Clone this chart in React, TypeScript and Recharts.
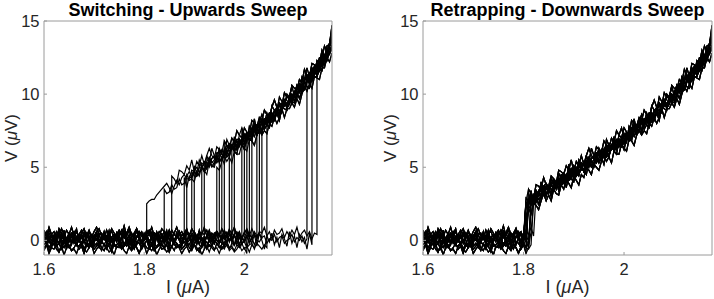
import { LineChart, Line, XAxis, YAxis } from "recharts";

// current sweep grid (uA), 1.600 .. 2.175
const I_GRID = [
  1.6, 1.605, 1.61, 1.615, 1.62, 1.625, 1.63, 1.635, 1.64, 1.645,
  1.65, 1.655, 1.66, 1.665, 1.67, 1.675, 1.68, 1.685, 1.69, 1.695,
  1.7, 1.705, 1.71, 1.715, 1.72, 1.725, 1.73, 1.735, 1.74, 1.745,
  1.75, 1.755, 1.76, 1.765, 1.77, 1.775, 1.78, 1.785, 1.79, 1.795,
  1.8, 1.805, 1.81, 1.815, 1.82, 1.825, 1.83, 1.835, 1.84, 1.845,
  1.85, 1.855, 1.86, 1.865, 1.87, 1.875, 1.88, 1.885, 1.89, 1.895,
  1.9, 1.905, 1.91, 1.915, 1.92, 1.925, 1.93, 1.935, 1.94, 1.945,
  1.95, 1.955, 1.96, 1.965, 1.97, 1.975, 1.98, 1.985, 1.99, 1.995,
  2.0, 2.005, 2.01, 2.015, 2.02, 2.025, 2.03, 2.035, 2.04, 2.045,
  2.05, 2.055, 2.06, 2.065, 2.07, 2.075, 2.08, 2.085, 2.09, 2.095,
  2.1, 2.105, 2.11, 2.115, 2.12, 2.125, 2.13, 2.135, 2.14, 2.145,
  2.15, 2.155, 2.16, 2.165, 2.17, 2.175,
];
const BRANCH_START = 40; // index of 1.800 in I_GRID

// superconducting branch noise (uV), 1.600 .. 2.145
const BASE_1 = [
  0.3, 0.1, 0.5, 0.2, 0.0, 0.4, 0.6, 0.1, 0.3, -0.1,
  0.2, 0.5, 0.3, 0.0, 0.4, 0.2, -0.1, 0.3, 0.6, 0.2,
  0.1, 0.4, 0.0, 0.2, 0.5, 0.3, -0.1, 0.2, 0.4, 0.1,
  0.3, 0.7, 0.2, 0.0, 0.3, 0.5, 0.1, 0.2, 0.6, 0.3,
  0.0, 0.2, 0.4, 0.1, 0.5, 0.3, -0.1, 0.2, 0.6, 0.4,
  0.1, 0.3, 0.0, 0.2, 0.5, 0.1, 0.3, 0.7, 0.2, 0.0,
  0.4, 0.2, 0.5, 0.1, -0.1, 0.3, 0.4, 0.0, 0.2, 0.6,
  0.3, 0.1, 0.4, 0.2, 0.0, 0.5, 0.3, 0.1, 0.4, 0.2,
  -0.1, 0.3, 0.5, 0.1, 0.2, 0.6, 0.2, 0.0, 0.3, 0.4,
  0.1, 0.5, 0.2, -0.1, 0.3, 0.4, 0.0, 0.2, 0.5, 0.3,
  0.1, 0.4, 0.0, 0.3, 0.5, 0.2, 0.0, 0.4, 0.2, 0.1,
];
const BASE_2 = [
  -0.3, -0.1, -0.5, -0.2, 0.0, -0.4, -0.2, -0.6, -0.1, -0.3,
  -0.5, -0.2, 0.1, -0.3, -0.4, -0.1, -0.6, -0.2, -0.3, 0.0,
  -0.4, -0.2, -0.5, -0.1, -0.3, -0.6, -0.2, 0.0, -0.4, -0.3,
  -0.1, -0.5, -0.2, -0.4, 0.0, -0.3, -0.6, -0.1, -0.2, -0.5,
  -0.3, 0.0, -0.2, -0.4, -0.1, -0.5, -0.3, -0.2, -0.6, -0.1,
  -0.3, -0.4, 0.0, -0.2, -0.5, -0.3, -0.1, -0.4, -0.2, -0.6,
  -0.2, 0.1, -0.3, -0.5, -0.2, -0.1, -0.4, -0.3, 0.0, -0.2,
  -0.5, -0.3, -0.1, -0.4, -0.6, -0.2, -0.3, 0.0, -0.4, -0.2,
  -0.1, -0.5, -0.3, -0.2, -0.6, -0.1, -0.4, -0.2, 0.0, -0.3,
  -0.5, -0.2, -0.4, -0.1, -0.3, -0.6, -0.2, -0.1, -0.4, -0.3,
  0.0, -0.2, -0.5, -0.3, -0.1, -0.4, -0.2, -0.6, -0.3, -0.1,
];
const BASE_3 = [
  0.1, -0.2, 0.3, 0.0, -0.3, 0.2, 0.4, -0.1, 0.1, -0.4,
  0.0, 0.3, -0.2, 0.1, -0.1, 0.4, 0.0, -0.3, 0.2, -0.1,
  0.3, 0.1, -0.2, 0.0, 0.4, -0.1, -0.3, 0.2, 0.0, 0.3,
  -0.2, 0.1, 0.4, 0.0, -0.3, 0.1, -0.1, 0.3, 0.2, -0.2,
  0.0, 0.4, -0.1, 0.1, -0.4, 0.2, 0.0, 0.3, -0.2, 0.1,
  0.5, 0.0, -0.3, 0.2, 0.1, -0.1, 0.3, -0.2, 0.0, 0.4,
  0.1, -0.3, 0.2, 0.0, -0.1, 0.3, 0.1, -0.4, 0.2, 0.0,
  -0.2, 0.3, 0.1, -0.1, 0.4, 0.0, -0.3, 0.1, 0.2, -0.2,
  0.0, 0.3, -0.1, 0.2, -0.3, 0.1, 0.4, 0.0, -0.2, 0.2,
  -0.1, 0.1, 0.3, -0.3, 0.0, 0.2, -0.2, 0.4, 0.1, -0.1,
  0.2, -0.3, 0.0, 0.3, -0.1, 0.1, -0.4, 0.2, 0.0, -0.2,
];
const BASE_4 = [
  0.5, 0.3, 0.7, 0.4, 0.2, 0.6, 0.3, 0.8, 0.4, 0.1,
  0.5, 0.3, 0.6, 0.2, 0.4, 0.7, 0.3, 0.1, 0.5, 0.4,
  0.2, 0.6, 0.8, 0.3, 0.4, 0.1, 0.5, 0.6, 0.2, 0.4,
  0.7, 0.3, 0.2, 0.5, 0.9, 0.4, 0.2, 0.6, 0.3, 0.5,
  0.1, 0.4, 0.7, 0.3, 0.5, 0.2, 0.6, 0.4, 0.1, 0.5,
  0.3, 0.7, 0.4, 0.2, 0.6, 0.3, 0.5, 0.8, 0.2, 0.4,
  0.6, 0.3, 0.1, 0.5, 0.4, 0.7, 0.2, 0.5, 0.3, 0.6,
  0.4, 0.2, 0.7, 0.3, 0.5, 0.1, 0.4, 0.6, 0.3, 0.2,
  0.5, 0.8, 0.4, 0.2, 0.6, 0.3, 0.5, 0.1, 0.4, 0.7,
  0.3, 0.5, 0.2, 0.6, 0.4, 0.1, 0.5, 0.3, 0.7, 0.4,
  0.2, 0.5, 0.3, 0.6, 0.1, 0.4, 0.3, 0.5, 0.2, 0.4,
];
const BASE_5 = [
  -0.5, -0.3, -0.7, -0.4, -0.2, -0.6, -0.8, -0.3, -0.5, -0.1,
  -0.4, -0.7, -0.5, -0.2, -0.6, -0.4, -0.9, -0.3, -0.5, -0.2,
  -0.6, -0.4, -0.1, -0.5, -0.7, -0.3, -0.4, -0.8, -0.2, -0.5,
  -0.3, -0.6, -0.4, -0.1, -0.5, -0.7, -0.3, -0.5, -0.9, -0.4,
  -0.2, -0.5, -0.6, -0.3, -0.7, -0.4, -0.2, -0.6, -0.5, -0.3,
  -0.8, -0.4, -0.2, -0.5, -0.3, -0.6, -0.4, -0.1, -0.5, -0.7,
  -0.3, -0.5, -0.8, -0.4, -0.2, -0.6, -0.3, -0.5, -0.7, -0.2,
  -0.4, -0.6, -0.3, -0.1, -0.5, -0.4, -0.7, -0.3, -0.5, -0.2,
  -0.6, -0.4, -0.8, -0.3, -0.5, -0.2, -0.4, -0.6, -0.3, -0.5,
  -0.7, -0.2, -0.4, -0.6, -0.3, -0.5, -0.1, -0.4, -0.6, -0.3,
  -0.5, -0.7, -0.2, -0.4, -0.6, -0.3, -0.5, -0.4, -0.6, -0.3,
];
const BASE_6 = [
  -0.1, 0.2, 0.0, -0.3, 0.3, 0.1, -0.2, 0.4, 0.0, 0.2,
  -0.1, 0.3, 0.1, -0.2, 0.0, 0.4, -0.1, 0.2, 0.3, -0.3,
  0.1, 0.0, 0.4, -0.1, 0.2, -0.2, 0.3, 0.1, -0.1, 0.5,
  0.0, 0.2, -0.3, 0.1, 0.3, 0.0, -0.2, 0.2, 0.4, -0.1,
  0.1, 0.3, 0.0, -0.2, 0.2, 0.5, 0.0, -0.1, 0.3, 0.1,
  -0.3, 0.2, 0.0, 0.4, 0.1, -0.2, 0.3, 0.0, 0.2, -0.1,
  0.4, 0.1, -0.2, 0.2, 0.0, 0.3, -0.1, 0.1, 0.4, 0.0,
  -0.2, 0.2, 0.3, -0.1, 0.1, 0.0, 0.4, -0.3, 0.2, 0.1,
  0.0, 0.3, -0.2, 0.1, 0.5, 0.0, -0.1, 0.2, 0.3, -0.2,
  0.1, 0.0, 0.4, -0.1, 0.2, 0.3, -0.2, 0.0, 0.1, 0.4,
  -0.1, 0.2, 0.0, 0.3, -0.2, 0.1, 0.3, 0.0, -0.1, 0.2,
];
const BASE_7 = [
  0.5, -0.3, 0.2, -0.5, 0.4, -0.2, 0.6, -0.4, 0.1, -0.6,
  0.3, -0.1, 0.5, -0.4, 0.2, -0.5, 0.6, 0.0, -0.4, 0.4,
  -0.2, 0.5, -0.5, 0.1, 0.6, -0.3, 0.3, -0.6, 0.2, -0.1,
  0.4, -0.4, 0.7, -0.2, 0.1, -0.5, 0.5, -0.3, 0.2, -0.6,
  0.4, 0.0, -0.5, 0.6, -0.2, 0.3, -0.4, 0.5, -0.1, 0.2,
  -0.6, 0.4, -0.3, 0.6, 0.0, -0.4, 0.3, -0.2, 0.5, -0.5,
  0.2, -0.1, 0.6, -0.4, 0.3, -0.6, 0.1, 0.4, -0.3, 0.5,
  -0.2, 0.2, -0.5, 0.6, -0.1, 0.3, -0.4, 0.5, -0.3, 0.1,
  0.6, -0.5, 0.2, -0.2, 0.4, -0.4, 0.5, 0.0, -0.6, 0.3,
  -0.1, 0.5, -0.3, 0.2, -0.5, 0.4, 0.1, -0.4, 0.6, -0.2,
  0.3, -0.5, 0.4, -0.1, 0.2, -0.6, 0.5, -0.3, 0.1, -0.4,
];
const BASE_8 = [
  0.7, 0.3, 0.9, 0.4, 0.6, 0.1, 0.8, 0.5, 0.2, 0.7,
  0.4, 0.9, 0.3, 0.6, 0.1, 0.5, 0.8, 0.3, 0.7, 0.2,
  0.6, 0.9, 0.4, 0.5, 0.1, 0.7, 0.3, 0.8, 0.5, 0.2,
  0.6, 0.4, 1.0, 0.3, 0.7, 0.2, 0.5, 0.8, 0.4, 0.6,
  0.1, 0.7, 0.4, 0.9, 0.3, 0.5, 0.2, 0.8, 0.6, 0.3,
  0.7, 0.1, 0.5, 0.9, 0.4, 0.6, 0.2, 0.7, 0.3, 0.8,
  0.5, 0.2, 0.6, 0.4, 0.9, 0.3, 0.7, 0.1, 0.5, 0.6,
  0.3, 0.8, 0.4, 0.2, 0.7, 0.5, 0.9, 0.3, 0.6, 0.1,
  0.5, 0.7, 0.3, 0.8, 0.4, 0.2, 0.6, 0.5, 0.9, 0.3,
  0.6, 0.1, 0.7, 0.4, 0.5, 0.8, 0.2, 0.6, 0.3, 0.7,
  0.4, 0.9, 0.2, 0.5, 0.7, 0.3, 0.6, 0.1, 0.5, 0.4,
];
const BASE_9 = [
  -0.7, -0.3, -0.9, -0.5, -0.6, -0.2, -0.8, -0.4, -1.0, -0.5,
  -0.3, -0.7, -0.6, -0.9, -0.4, -0.2, -0.6, -0.8, -0.5, -0.3,
  -0.9, -0.6, -0.4, -0.7, -0.2, -0.5, -0.8, -0.6, -1.0, -0.4,
  -0.5, -0.3, -0.7, -0.9, -0.4, -0.6, -0.2, -0.5, -0.8, -0.6,
  -0.3, -0.9, -0.5, -0.7, -0.4, -1.0, -0.6, -0.3, -0.5, -0.8,
  -0.6, -0.4, -0.7, -0.2, -0.5, -0.9, -0.6, -0.4, -0.8, -0.5,
  -0.3, -0.7, -0.5, -1.0, -0.6, -0.4, -0.8, -0.3, -0.6, -0.5,
  -0.9, -0.4, -0.6, -0.2, -0.7, -0.5, -0.8, -0.6, -0.3, -0.7,
  -0.5, -0.9, -0.4, -0.6, -0.3, -0.8, -0.5, -0.7, -1.0, -0.4,
  -0.6, -0.3, -0.8, -0.5, -0.7, -0.4, -0.6, -0.9, -0.5, -0.3,
  -0.7, -0.5, -0.8, -0.4, -0.6, -0.3, -0.9, -0.5, -0.7, -0.4,
];
const BASE_10 = [
  0.2, 0.6, -0.2, 0.4, 0.0, -0.3, 0.5, 0.1, 0.7, -0.1,
  0.3, -0.3, 0.4, 0.8, 0.0, 0.2, -0.2, 0.5, 0.1, -0.4,
  0.3, 0.6, 0.0, -0.2, 0.4, 0.2, 0.7, -0.1, 0.1, 0.5,
  -0.3, 0.2, 0.6, 0.0, 0.4, -0.2, 0.3, 0.8, 0.1, -0.1,
  0.5, 0.2, -0.3, 0.4, 0.0, 0.6, 0.2, -0.2, 0.3, 0.7,
  0.0, 0.4, -0.1, 0.2, 0.6, -0.3, 0.1, 0.5, 0.3, -0.2,
  0.4, 0.0, 0.7, 0.1, -0.3, 0.3, 0.5, -0.1, 0.2, 0.6,
  0.0, -0.2, 0.4, 0.2, 0.8, -0.1, 0.3, 0.0, 0.5, -0.3,
  0.2, 0.6, 0.1, -0.2, 0.4, 0.0, 0.7, 0.2, -0.1, 0.3,
  0.5, -0.3, 0.2, 0.6, 0.0, 0.4, -0.2, 0.3, 0.1, 0.5,
  -0.1, 0.4, 0.2, -0.3, 0.5, 0.0, 0.3, 0.6, -0.2, 0.2,
];

// resistive branch (uV), 1.800 .. 2.175
const BRANCH_1 = [
  2.4, 2.5, 2.7, 2.8, 2.8, 3.1, 3.3, 3.5, 3.7, 3.9,
  3.6, 3.2, 3.7, 4.1, 3.8, 4.3, 4.5, 4.2, 4.2, 4.8,
  4.7, 4.4, 5.0, 5.3, 5.1, 4.9, 5.6, 5.4, 5.2, 5.8,
  6.2, 5.9, 5.7, 6.3, 6.6, 6.2, 6.5, 6.8, 6.5, 6.8,
  7.2, 7.1, 6.9, 7.5, 7.9, 7.6, 7.5, 8.2, 8.1, 8.1,
  8.7, 8.7, 8.3, 8.9, 9.2, 8.9, 9.3, 9.8, 9.7, 9.4,
  10.1, 10.6, 10.3, 10.3, 11.0, 11.0, 10.9, 11.7, 11.7, 11.6,
  12.2, 12.2, 12.2, 12.9, 13.4, 13.9,
];
const BRANCH_2 = [
  2.2, 2.6, 2.4, 2.9, 2.8, 2.6, 3.2, 3.4, 3.1, 3.1,
  3.7, 3.5, 3.4, 4.0, 4.2, 3.8, 4.1, 4.5, 4.2, 4.3,
  4.9, 4.8, 4.5, 5.0, 5.3, 5.0, 5.1, 5.6, 5.7, 5.3,
  5.6, 6.1, 6.0, 5.8, 6.3, 6.5, 6.2, 6.4, 6.9, 6.7,
  6.6, 7.3, 7.4, 7.0, 7.4, 7.9, 7.7, 7.6, 8.3, 8.4,
  8.0, 8.4, 8.9, 8.6, 8.7, 9.4, 9.5, 9.1, 9.5, 10.0,
  9.8, 9.8, 10.6, 10.7, 10.4, 10.8, 11.4, 11.1, 11.3, 12.0,
  12.1, 11.9, 12.4, 13.0, 12.8, 13.2,
];
const BRANCH_3 = [
  2.7, 2.4, 2.6, 3.1, 2.6, 3.2, 3.3, 2.9, 3.5, 3.7,
  3.3, 3.8, 4.0, 3.6, 4.1, 4.4, 4.0, 4.4, 4.7, 4.3,
  4.8, 5.0, 4.7, 4.8, 5.4, 5.3, 5.0, 5.6, 5.8, 5.5,
  5.9, 6.2, 5.8, 6.0, 6.5, 6.4, 6.3, 6.9, 6.9, 6.6,
  7.1, 7.4, 7.1, 7.3, 7.8, 7.5, 8.0, 8.2, 7.9, 8.4,
  8.6, 8.3, 8.8, 9.1, 8.8, 9.3, 9.6, 9.3, 9.8, 10.0,
  9.8, 10.4, 10.7, 10.4, 10.9, 11.3, 11.0, 11.4, 11.9, 11.6,
  12.0, 12.6, 12.3, 12.7, 13.3, 13.6,
];
const BRANCH_4 = [
  2.1, 2.5, 2.8, 2.4, 2.7, 3.1, 2.8, 3.0, 3.5, 3.2,
  3.3, 3.8, 3.5, 3.6, 4.2, 3.8, 3.9, 4.5, 4.1, 4.2,
  4.8, 4.4, 4.6, 5.1, 4.7, 4.9, 5.4, 5.0, 5.2, 5.8,
  5.4, 5.5, 6.2, 5.7, 5.9, 6.5, 6.1, 6.3, 6.9, 6.4,
  6.7, 7.3, 6.8, 7.1, 7.7, 7.2, 7.5, 8.1, 7.6, 7.9,
  8.5, 8.1, 8.4, 9.0, 8.5, 8.8, 9.5, 9.1, 9.3, 9.9,
  9.5, 9.8, 10.5, 10.1, 10.4, 11.1, 10.7, 11.0, 11.7, 11.3,
  11.6, 12.4, 12.0, 12.4, 13.2, 13.0,
];
const BRANCH_5 = [
  2.4, 2.9, 2.7, 2.5, 3.1, 3.4, 3.0, 3.2, 3.7, 3.6,
  3.3, 3.9, 4.2, 3.7, 3.9, 4.5, 4.4, 4.0, 4.6, 4.9,
  4.5, 4.7, 5.2, 5.1, 4.8, 5.4, 5.7, 5.3, 5.5, 6.0,
  6.0, 5.6, 6.2, 6.5, 6.1, 6.3, 6.8, 6.8, 6.4, 7.0,
  7.3, 6.9, 7.2, 7.7, 7.7, 7.4, 8.0, 8.3, 7.9, 8.2,
  8.7, 8.7, 8.4, 9.0, 9.3, 8.9, 9.3, 9.8, 9.8, 9.5,
  10.1, 10.5, 10.1, 10.5, 11.1, 11.1, 10.8, 11.5, 11.9, 11.5,
  11.9, 12.6, 12.6, 12.5, 13.2, 13.8,
];
const BRANCH_6 = [
  2.3, 2.2, 2.8, 2.8, 2.4, 3.0, 3.4, 2.9, 3.1, 3.6,
  3.4, 3.3, 3.9, 3.9, 3.6, 4.1, 4.5, 4.0, 4.2, 4.7,
  4.4, 4.4, 5.0, 5.0, 4.7, 5.2, 5.5, 5.1, 5.3, 5.8,
  5.5, 5.6, 6.1, 6.1, 5.8, 6.3, 6.7, 6.2, 6.5, 7.0,
  6.7, 6.9, 7.4, 7.4, 7.1, 7.6, 8.0, 7.5, 7.8, 8.3,
  8.0, 8.3, 8.8, 8.8, 8.5, 9.1, 9.6, 9.0, 9.4, 9.9,
  9.6, 9.9, 10.5, 10.6, 10.3, 10.9, 11.4, 10.9, 11.3, 11.9,
  11.6, 12.1, 12.7, 12.8, 12.7, 13.4,
];
const BRANCH_7 = [
  3.1, 2.7, 3.5, 3.2, 2.9, 3.8, 3.7, 3.5, 4.3, 3.8,
  3.7, 4.4, 4.2, 3.9, 4.8, 4.7, 4.5, 5.1, 4.8, 5.5,
  4.7, 5.4, 5.1, 5.8, 5.2, 5.8, 6.3, 5.8, 5.6, 6.4,
  6.2, 6.0, 6.8, 6.5, 6.3, 7.0, 6.7, 7.5, 7.2, 7.0,
  7.7, 7.4, 7.3, 8.2, 8.0, 7.8, 8.4, 8.2, 8.9, 8.6,
  8.4, 9.1, 9.6, 9.1, 9.4, 9.2, 10.1, 9.8, 9.8, 10.6,
  10.4, 10.3, 11.0, 10.8, 11.7, 11.3, 11.2, 12.1, 12.0, 11.9,
  12.5, 12.5, 13.3, 12.9, 13.5, 14.2,
];
const BRANCH_8 = [
  2.1, 1.7, 2.2, 1.8, 2.6, 2.4, 2.1, 2.7, 3.2, 2.7,
  3.1, 2.7, 3.5, 3.2, 3.1, 3.8, 3.5, 4.2, 3.9, 3.6,
  4.4, 4.1, 3.8, 4.5, 4.3, 5.0, 4.8, 4.5, 5.2, 5.0,
  4.8, 5.4, 5.8, 5.4, 5.7, 5.3, 6.1, 5.9, 5.9, 6.6,
  6.3, 6.1, 6.9, 6.8, 6.5, 7.2, 7.5, 7.2, 7.5, 7.3,
  8.0, 7.8, 8.4, 8.0, 8.4, 9.0, 8.4, 9.0, 9.0, 9.4,
  9.1, 9.7, 9.3, 10.0, 10.5, 10.2, 10.7, 10.4, 11.2, 11.1,
  11.0, 11.8, 11.8, 12.5, 12.2, 12.8,
];
const BRANCH_9 = [
  3.0, 2.3, 2.7, 3.4, 2.5, 3.4, 3.1, 4.0, 3.2, 3.7,
  3.3, 4.2, 3.9, 3.5, 4.6, 4.2, 4.6, 4.1, 5.2, 4.5,
  5.1, 4.6, 5.5, 5.1, 4.7, 5.8, 5.3, 6.3, 5.8, 5.4,
  6.3, 5.9, 5.7, 6.9, 6.5, 6.3, 7.1, 6.4, 7.2, 7.7,
  7.0, 6.7, 7.8, 7.5, 8.3, 7.5, 8.1, 8.6, 8.0, 8.7,
  8.1, 9.2, 8.9, 8.8, 9.8, 9.5, 9.2, 10.0, 9.8, 10.5,
  9.9, 10.6, 10.1, 11.2, 11.0, 11.8, 11.2, 11.8, 11.4, 12.3,
  12.1, 13.0, 12.5, 13.3, 13.4, 14.7,
];
const BRANCH_10 = [
  1.9, 2.6, 2.0, 2.7, 2.5, 3.2, 2.4, 3.1, 3.4, 3.0,
  3.6, 3.0, 3.6, 4.0, 3.4, 3.9, 4.3, 3.6, 4.4, 4.2,
  4.0, 4.7, 4.4, 5.1, 4.8, 4.5, 5.4, 5.1, 5.0, 5.7,
  5.3, 5.7, 5.2, 6.1, 5.7, 6.5, 6.1, 5.9, 6.8, 6.6,
  6.2, 7.0, 6.9, 6.8, 7.7, 7.2, 7.6, 7.3, 8.1, 7.9,
  7.7, 8.6, 8.2, 8.7, 8.2, 9.1, 9.0, 8.9, 9.8, 9.5,
  9.4, 10.1, 9.7, 10.3, 10.8, 10.5, 10.4, 11.3, 11.2, 11.2,
  11.7, 11.6, 12.5, 12.3, 12.9, 13.0,
];

// switching currents of the upward sweeps (uA)
const SWITCH_I = [
  1.805, 1.84, 1.855, 1.88, 1.885, 1.895, 1.9, 1.915, 1.92, 1.945,
  1.95, 1.955, 1.96, 1.97, 1.975, 1.98, 1.995, 2.0, 2.005, 2.01,
  2.015, 2.025, 2.03, 2.035, 2.045, 2.125, 2.135, 2.145,
];
// retrapping currents of the downward sweeps (uA)
const RETRAP_I = [
  1.8, 1.805, 1.8, 1.805, 1.81, 1.8, 1.805, 1.8, 1.805, 1.81,
  1.805, 1.8, 1.805, 1.815, 1.8, 1.805, 1.8, 1.81, 1.805, 1.8,
  1.805, 1.8, 1.82, 1.805, 1.8, 1.81, 1.805, 1.8, 1.805, 1.815,
];

const X_TICKS = [1.6, 1.8, 2];
const Y_TICKS = [0, 5, 10, 15];
const X_DOMAIN = [1.6, 2.175];
const Y_DOMAIN = [-1, 15];

const BASES = [BASE_1, BASE_2, BASE_3, BASE_4, BASE_5, BASE_6, BASE_7, BASE_8, BASE_9, BASE_10];
const BRANCHES = [
  BRANCH_1, BRANCH_2, BRANCH_3, BRANCH_4, BRANCH_5,
  BRANCH_6, BRANCH_7, BRANCH_8, BRANCH_9, BRANCH_10,
];

type Pt = { I: number; V: number };

// upward sweeps jump straight up at Isw, downward sweeps drop over one step
function buildTrace(jump: number, base: number[], branch: number[], vertical: boolean) {
  const pts: Pt[] = [];
  for (let k = 0; k < I_GRID.length; k++) {
    const I = I_GRID[k];
    if (I < jump - 1e-6) {
      pts.push({ I, V: base[k] });
    } else if (Math.abs(I - jump) < 1e-6) {
      pts.push({ I, V: base[k] });
      if (vertical) pts.push({ I, V: branch[k - BRANCH_START] });
    } else {
      pts.push({ I, V: branch[k - BRANCH_START] });
    }
  }
  return pts;
}

const switchTraces = SWITCH_I.map((isw, i) =>
  buildTrace(isw, BASES[i % 10], BRANCHES[(i * 3) % 10], true)
);
const retrapTraces = RETRAP_I.map((ir, i) =>
  buildTrace(ir, BASES[(i * 7 + 3) % 10], BRANCHES[i % 10], false)
);

const AXIS = "#9a9a9a";
const TEXT = "#262626";
const FONT = "'Liberation Sans', Arial, Helvetica, sans-serif";

function Panel({
  title,
  traces,
  left,
  marginLeft,
  marginRight,
  yLabelX,
}: {
  title: string;
  traces: Pt[][];
  left: number;
  marginLeft: number;
  marginRight: number;
  yLabelX: number;
}) {
  return (
    <div style={{ position: "absolute", left, top: 0 }}>
      <LineChart
        width={357}
        height={299}
        margin={{ top: 20, right: marginRight, bottom: 0, left: marginLeft }}
      >
        <XAxis
          dataKey="I"
          type="number"
          domain={X_DOMAIN}
          ticks={X_TICKS}
          allowDataOverflow
          interval={0}
          height={44}
          stroke={AXIS}
          tickSize={-3}
          tickMargin={11}
          tick={{ fill: TEXT, fontSize: 16.5 }}
          tickFormatter={(v) => String(v)}
          label={{
            content: (p: any) => {
              const vb = p.viewBox;
              return (
                <text
                  x={vb.x + vb.width / 2}
                  y={vb.y + 38}
                  textAnchor="middle"
                  fontSize={18}
                  fill={TEXT}
                >
                  I (<tspan fontStyle="italic">μ</tspan>A)
                </text>
              );
            },
          }}
        />
        <XAxis
          xAxisId="top"
          orientation="top"
          type="number"
          domain={X_DOMAIN}
          ticks={X_TICKS}
          allowDataOverflow
          height={1}
          stroke={AXIS}
          tickSize={-3}
          tick={false}
          label={{
            content: (p: any) => {
              const vb = p.viewBox;
              return (
                <text
                  x={vb.x + vb.width / 2}
                  y={16}
                  textAnchor="middle"
                  fontSize={18}
                  fontWeight="bold"
                  fill="#000"
                >
                  {title}
                </text>
              );
            },
          }}
        />
        <YAxis
          type="number"
          domain={Y_DOMAIN}
          ticks={Y_TICKS}
          allowDataOverflow
          interval={0}
          width={44}
          stroke={AXIS}
          tickSize={-3}
          tickMargin={7.5}
          tick={{ fill: TEXT, fontSize: 16.5 }}
          label={{
            content: (p: any) => {
              const vb = p.viewBox;
              const cy = vb.y + vb.height / 2;
              return (
                <text
                  x={yLabelX}
                  y={cy}
                  transform={`rotate(-90 ${yLabelX} ${cy})`}
                  textAnchor="middle"
                  fontSize={17}
                  fill={TEXT}
                >
                  V (<tspan fontStyle="italic">μ</tspan>V)
                </text>
              );
            },
          }}
        />
        <YAxis
          yAxisId="right"
          orientation="right"
          type="number"
          domain={Y_DOMAIN}
          ticks={Y_TICKS}
          allowDataOverflow
          width={1}
          stroke={AXIS}
          tickSize={-3}
          tick={false}
        />
        {traces.map((pts, i) => (
          <Line
            key={i}
            data={pts}
            dataKey="V"
            type="linear"
            stroke="#000"
            strokeWidth={1.2}
            dot={false}
            activeDot={false}
            isAnimationActive={false}
          />
        ))}
      </LineChart>
    </div>
  );
}

export default function App() {
  return (
    <div
      style={{
        position: "absolute",
        left: 0,
        top: 0,
        width: 714,
        height: 299,
        background: "#fff",
        fontFamily: FONT,
      }}
    >
      <Panel
        title="Switching - Upwards Sweep"
        traces={switchTraces}
        left={0}
        marginLeft={0}
        marginRight={24}
        yLabelX={16.5}
      />
      <Panel
        title="Retrapping - Downwards Sweep"
        traces={retrapTraces}
        left={357}
        marginLeft={22}
        marginRight={1}
        yLabelX={39}
      />
    </div>
  );
}
